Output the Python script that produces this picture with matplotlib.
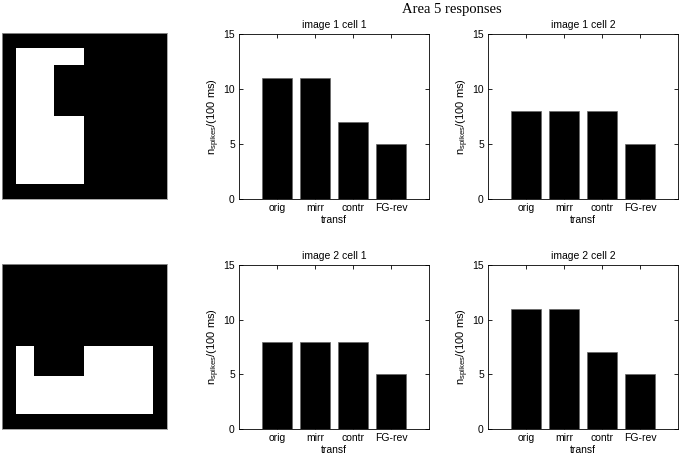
import matplotlib
matplotlib.use("Agg")
import matplotlib.pyplot as plt
from matplotlib.patches import Rectangle

plt.rcParams["font.family"] = ["Liberation Sans", "DejaVu Sans"]
plt.rcParams["mathtext.fontset"] = "custom"
plt.rcParams["mathtext.rm"] = "Liberation Sans"

# conditions and responses (spikes per 100 ms)
transf = ["orig", "mirr", "contr", "FG-rev"]
img1_cell1 = [11, 11, 7, 5]
img1_cell2 = [8, 8, 8, 5]
img2_cell1 = [8, 8, 8, 5]
img2_cell2 = [11, 11, 7, 5]
titles = [["image 1 cell 1", "image 1 cell 2"], ["image 2 cell 1", "image 2 cell 2"]]

# stimulus images: white rects on black (x0, y0, x1, y1 as fractions, y from top),
# then black notch rects cut back out
img1_white = [(0.084, 0.09, 0.494, 0.91)]
img1_black = [(0.313, 0.193, 0.494, 0.50)]
img2_white = [(0.084, 0.497, 0.915, 0.909)]
img2_black = [(0.194, 0.497, 0.497, 0.679)]

W, H = 680, 457
fig = plt.figure(figsize=(W / 100, H / 100), dpi=100)


def px_axes(x0, y0, x1, y1):
    return fig.add_axes([x0 / W, 1 - y1 / H, (x1 - x0) / W, (y1 - y0) / H])


def draw_stim(ax, whites, blacks):
    ax.set_facecolor("black")
    ax.set_xlim(0, 1); ax.set_ylim(1, 0)
    for x0, y0, x1, y1 in whites:
        ax.add_patch(Rectangle((x0, y0), x1 - x0, y1 - y0, color="white", lw=0))
    for x0, y0, x1, y1 in blacks:
        ax.add_patch(Rectangle((x0, y0), x1 - x0, y1 - y0, color="black", lw=0))
    ax.set_xticks([]); ax.set_yticks([])
    for s in ax.spines.values():
        s.set_color("#999999"); s.set_linewidth(0.6)


def draw_bars(ax, vals, title):
    xs = range(1, len(vals) + 1)
    ax.bar(xs, vals, width=0.8, color="black", edgecolor="#666666", linewidth=0.5)
    ax.set_xlim(0, 5); ax.set_ylim(0, 15)
    ax.set_xticks(list(xs)); ax.set_xticklabels(transf)
    ax.set_yticks([0, 5, 10, 15])
    ax.tick_params(direction="in", top=True, right=True, labelsize=7.5, length=3, width=0.6, pad=3)
    for s in ax.spines.values():
        s.set_linewidth(0.6)
    ax.set_title(title, fontsize=7.5, pad=4)
    ax.set_xlabel("transf", fontsize=7.5, labelpad=1)
    ax.set_ylabel(r"n$_{\rm spikes}$/(100 ms)", fontsize=8, labelpad=1)


rows = [(33, 199), (264, 429)]
ax = px_axes(2, 33, 167, 199); draw_stim(ax, img1_white, img1_black)
ax = px_axes(2, 264, 167, 429); draw_stim(ax, img2_white, img2_black)

data = [[img1_cell1, img1_cell2], [img2_cell1, img2_cell2]]
for r, (y0, y1) in enumerate(rows):
    for c, x0 in enumerate([239, 488]):
        ax = px_axes(x0, y0 + 1, x0 + 190, y1)
        draw_bars(ax, data[r][c], titles[r][c])

fig.text(452 / W, 1 - 10 / H, "Area 5 responses", ha="center", va="center",
         fontsize=10.5, family=["Liberation Serif", "DejaVu Serif"])

fig.savefig("out.png", dpi=100)
